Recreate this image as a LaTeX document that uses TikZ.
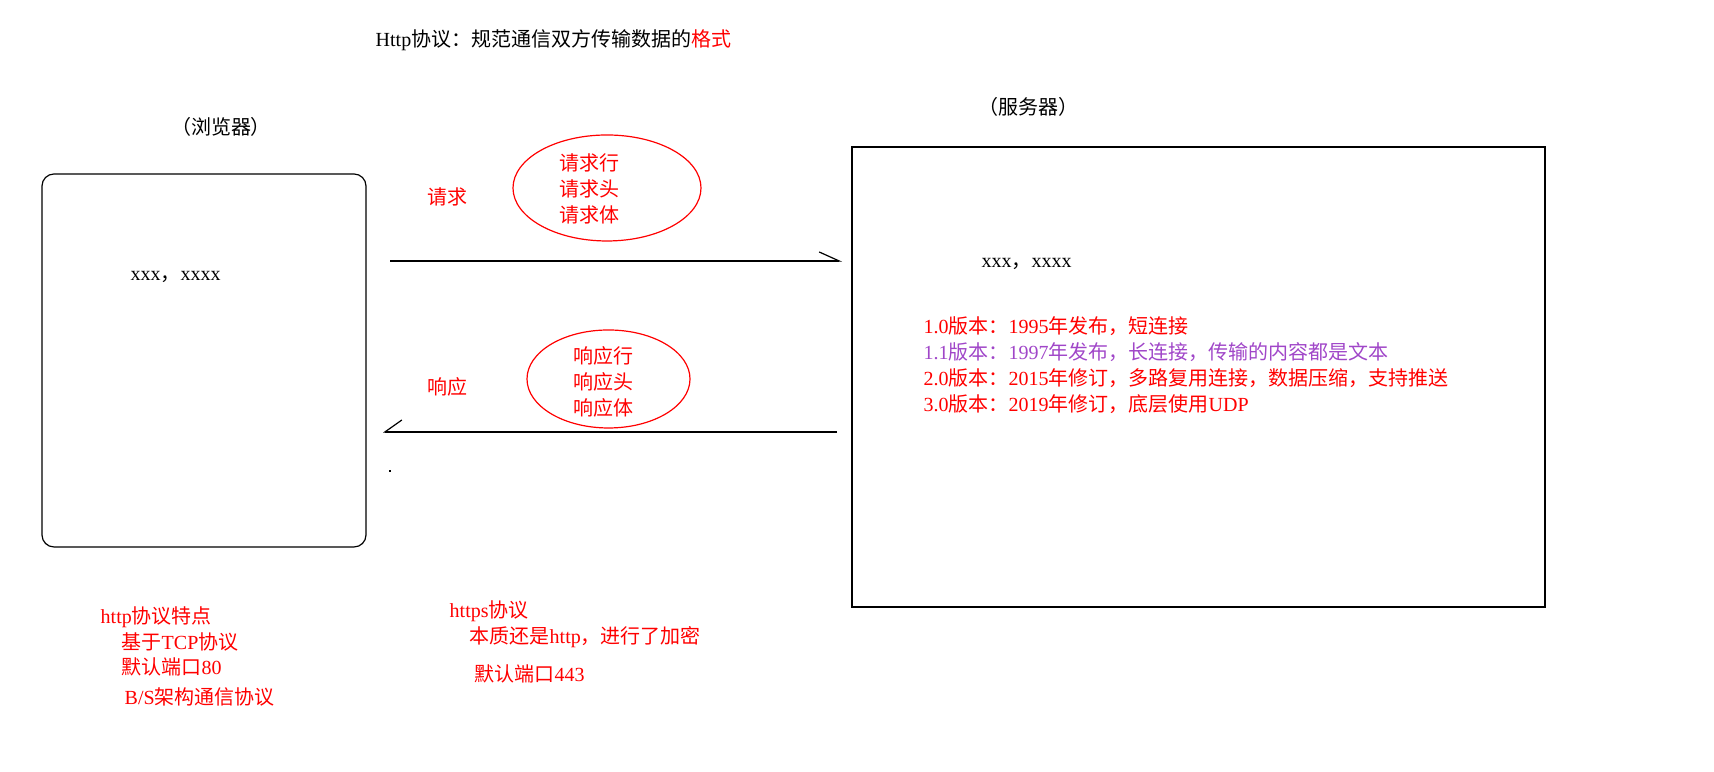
\documentclass[tikz,border=0pt]{standalone}
\usepackage{fontspec}
\setmainfont{Noto Sans CJK SC}
\newfontfamily\latfont{Liberation Serif}
\newcommand{\lat}[1]{{\latfont #1}}
\usetikzlibrary{arrows.meta,shapes.geometric}
\definecolor{r255g0b0}{rgb}{1.000000,0.000000,0.000000}
\definecolor{r160g70b200}{RGB}{160,70,200}
\begin{document}
\begin{tikzpicture}[every node/.style={inner sep=0pt,font=\fontsize{5.69pt}{7.4pt}\selectfont},
                    redtext/.style={text=r255g0b0,anchor=west},
                    thinline/.style={line width=0.012cm}]
\useasboundingbox (0,0) rectangle (17.14,7.72);

% Title
\draw (3.75,7.32) node (title) [anchor=west] {\lat{Http}协议：规范通信双方传输数据的\textcolor{r255g0b0}{格式}};%

% Drawing browser
\draw (2.21,6.45) node (browserlabel) {（浏览器）};%
\draw [thinline,rounded corners=0.12cm] (0.42,5.98) rectangle (3.66,2.25);%
\draw (1.30,4.95) node (browsertext) [anchor=west] {\lat{xxx}，\lat{xxxx}};%

% Drawing server
\draw (10.28,6.65) node (serverlabel) {（服务器）};%
\draw [thinline] (8.52,6.25) rectangle (15.45,1.65);%
\draw (9.81,5.08) node (servertext) [anchor=west] {\lat{xxx}，\lat{xxxx}};%
\draw (9.23,4.07) node (versions) [anchor=west,align=left] {%
  \textcolor{r255g0b0}{\lat{1.0}版本：\lat{1995}年发布，短连接}\\
  \textcolor{r160g70b200}{\lat{1.1}版本：\lat{1997}年发布，长连接，传输的内容都是文本}\\
  \textcolor{r255g0b0}{\lat{2.0}版本：\lat{2015}年修订，多路复用连接，数据压缩，支持推送}\\
  \textcolor{r255g0b0}{\lat{3.0}版本：\lat{2019}年修订，底层使用\lat{UDP}}};%

% Request
\draw (4.27,5.75) node (reqlabel) [redtext] {请求};%
\draw (6.07,5.84) node (reqparts) [ellipse,thinline,draw=r255g0b0,minimum width=1.88cm,minimum height=1.06cm] {};%
\draw (5.89,5.83) node (reqlines) [text=r255g0b0,align=center] {请求行\\请求头\\请求体};%
\coordinate (reqstart) at (3.90,5.11);
\coordinate (reqend) at (8.42,5.11);
\draw [thinline,-{Straight Barb[left,length=0.2cm,width=0.18cm]}] (reqstart) -- (reqend);%

% Response
\draw (4.27,3.85) node (resplabel) [redtext] {响应};%
\draw (6.085,3.93) node (respparts) [ellipse,thinline,draw=r255g0b0,minimum width=1.63cm,minimum height=0.98cm] {};%
\draw (6.03,3.90) node (resplines) [text=r255g0b0,align=center] {响应行\\响应头\\响应体};%
\coordinate (respstart) at (8.37,3.40);
\coordinate (respend) at (3.83,3.40);
\draw [thinline,-{Straight Barb[right,length=0.17cm,width=0.24cm]}] (respstart) -- (respend);%
\fill (3.885,2.995) rectangle (3.905,3.015);%

% Notes below
\draw (1.00,1.55) node (httpnote) [redtext] {\lat{http}协议特点};%
\draw (1.21,1.30) node (tcpnote) [redtext] {基于\lat{TCP}协议};%
\draw (1.21,1.05) node (portnote) [redtext] {默认端口\lat{80}};%
\draw (1.24,0.75) node (bsnote) [redtext] {\lat{B/S}架构通信协议};%
\draw (4.49,1.61) node (httpsnote) [redtext] {\lat{https}协议};%
\draw (4.69,1.35) node (cryptnote) [redtext] {本质还是\lat{http}，进行了加密};%
\draw (4.74,0.98) node (sslportnote) [redtext] {默认端口\lat{443}};%
\end{tikzpicture}
\end{document}
